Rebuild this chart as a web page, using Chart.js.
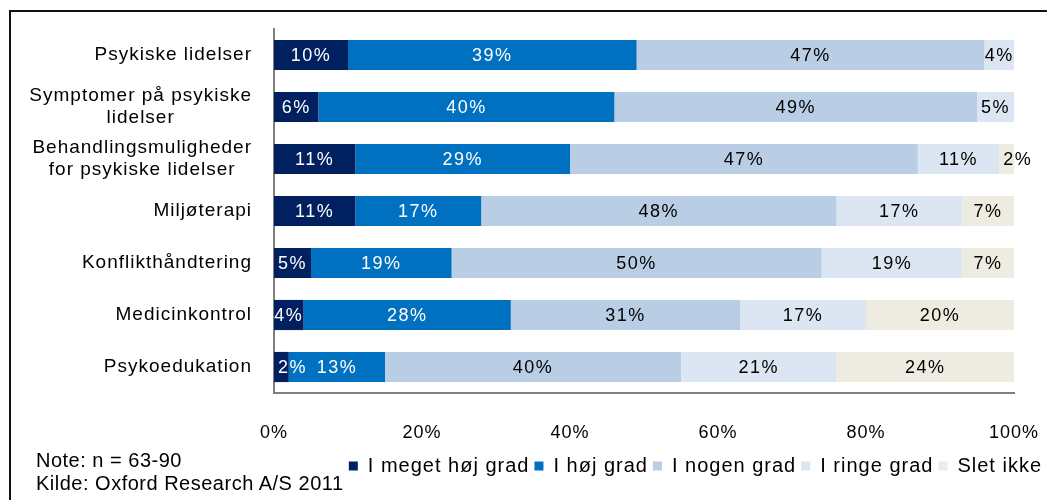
<!DOCTYPE html>
<html>
<head>
<meta charset="utf-8">
<script src="https://cdn.jsdelivr.net/npm/chart.js@4/dist/chart.umd.min.js"></script>
<style>
  html, body { margin: 0; padding: 0; background: #fff; overflow: hidden; }
  #wrap { position: relative; width: 1047px; height: 500px; }
  #frame { position: absolute; left: 9px; top: 10px; width: 1200px; height: 600px;
    border-left: 2px solid #111; border-top: 2px solid #111; }
  #chart { position: absolute; left: 0; top: 0; }
  #note { position: absolute; left: 36px; top: 449px; font: 20px "Liberation Sans", Arial, sans-serif;
    line-height: 23px; letter-spacing: 0.5px; color: #000; }
</style>
</head>
<body>
<div id="wrap">
  <div id="frame"></div>
  <canvas id="chart" width="1047" height="500"></canvas>
  <div id="note">Note: n = 63-90<br>Kilde: Oxford Research A/S 2011</div>
</div>
<script>
const categories = [
  "Psykiske lidelser",
  ["Symptomer på psykiske", "lidelser"],
  ["Behandlingsmuligheder", "for psykiske lidelser"],
  "Miljøterapi",
  "Konflikthåndtering",
  "Medicinkontrol",
  "Psykoedukation"
];
const seriesNames = ["I meget høj grad", "I høj grad", "I nogen grad", "I ringe grad", "Slet ikke"];
const meget = [10, 6, 11, 11, 5, 4, 2];
const hoej = [39, 40, 29, 17, 19, 28, 13];
const nogen = [47, 49, 47, 48, 50, 31, 40];
const ringe = [4, 5, 11, 17, 19, 17, 21];
const slet = [0, 0, 2, 7, 7, 20, 24];
const xTicks = [0, 20, 40, 60, 80, 100];

const colors = ["#002060", "#0070C0", "#B9CDE5", "#DCE6F2", "#EEECE1"];
const values = [meget, hoej, nogen, ringe, slet];

Chart.defaults.font.family = '"Liberation Sans", Arial, sans-serif';
Chart.defaults.color = "#000";

// excel-ish wide text
const spacing = {
  id: "spacing",
  beforeLayout(chart) { chart.ctx.letterSpacing = "1px"; },
  beforeDraw(chart) { chart.ctx.letterSpacing = "1px"; }
};

const categoryLabels = {
  id: "categoryLabels",
  afterDraw(chart) {
    const ctx = chart.ctx;
    const y = chart.scales.y;
    ctx.save();
    ctx.letterSpacing = "1px";
    ctx.font = '19px "Liberation Sans", Arial, sans-serif';
    ctx.fillStyle = "#000";
    ctx.textAlign = "center";
    ctx.textBaseline = "middle";
    categories.forEach((cat, i) => {
      const lines = Array.isArray(cat) ? cat : [cat];
      const maxW = Math.max(...lines.map((l) => ctx.measureText(l).width));
      const cx = y.right - 22 - maxW / 2;
      const cy = y.getPixelForValue(i);
      const lh = 22;
      lines.forEach((l, j) => {
        ctx.fillText(l, cx, cy - ((lines.length - 1) * lh) / 2 + j * lh);
      });
    });
    ctx.restore();
  }
};

const barLabels = {
  id: "barLabels",
  afterDatasetsDraw(chart) {
    const ctx = chart.ctx;
    ctx.save();
    ctx.letterSpacing = "1.5px";
    ctx.font = '18px "Liberation Sans", Arial, sans-serif';
    ctx.textAlign = "center";
    ctx.textBaseline = "middle";
    chart.data.datasets.forEach((ds, d) => {
      const meta = chart.getDatasetMeta(d);
      meta.data.forEach((bar, i) => {
        const v = ds.data[i];
        if (!v) return;
        const left = Math.min(bar.x, bar.base);
        const right = Math.max(bar.x, bar.base);
        const text = v + "%";
        const w = ctx.measureText(text).width;
        // too narrow: start the label just after the segment start
        const cx = w > right - left + 4 ? left + 4 + w / 2 : (left + right) / 2;
        ctx.fillStyle = d < 2 ? "#fff" : "#000";
        ctx.fillText(text, cx, bar.y + 1);
      });
    });
    ctx.restore();
  }
};

const datasets = seriesNames.map((name, i) => ({
  label: name,
  data: values[i],
  backgroundColor: colors[i],
  borderWidth: 0,
  barPercentage: 0.58,
  categoryPercentage: 1,
  xAxisID: "x",
  yAxisID: "y"
}));

new Chart(document.getElementById("chart").getContext("2d"), {
  type: "bar",
  data: { labels: categories, datasets: datasets },
  options: {
    indexAxis: "y",
    responsive: false,
    animation: false,
    layout: { padding: { top: 29, right: 0, bottom: 14, left: 0 } },
    scales: {
      x: {
        stacked: true,
        min: 0,
        max: 100,
        afterBuildTicks: (s) => { s.ticks = xTicks.map((v) => ({ value: v })); },
        ticks: { callback: (v) => v + "%", font: { size: 18 }, padding: 29, maxRotation: 0 },
        grid: { display: false, drawTicks: false },
        border: { color: "#808080", width: 2 },
        afterFit: (s) => {
          s.height = 58;
          s.paddingLeft = 0;
          s.paddingRight = 0;
        }
      },
      y: {
        stacked: true,
        ticks: { display: false },
        grid: { display: false, drawTicks: false },
        border: { color: "#808080", width: 2 },
        afterFit: (s) => { s.width = 274; }
      },
      pad: {
        axis: "y",
        type: "linear",
        position: "right",
        display: true,
        ticks: { display: false },
        grid: { display: false, drawTicks: false },
        border: { display: false },
        afterFit: (s) => { s.width = 33; }
      }
    },
    plugins: {
      legend: {
        position: "bottom",
        align: "end",
        labels: { boxWidth: 9, boxHeight: 9, padding: 5, font: { size: 20 }, color: "#000" }
      },
      tooltip: { enabled: false }
    }
  },
  plugins: [spacing, categoryLabels, barLabels]
});
</script>
</body>
</html>
